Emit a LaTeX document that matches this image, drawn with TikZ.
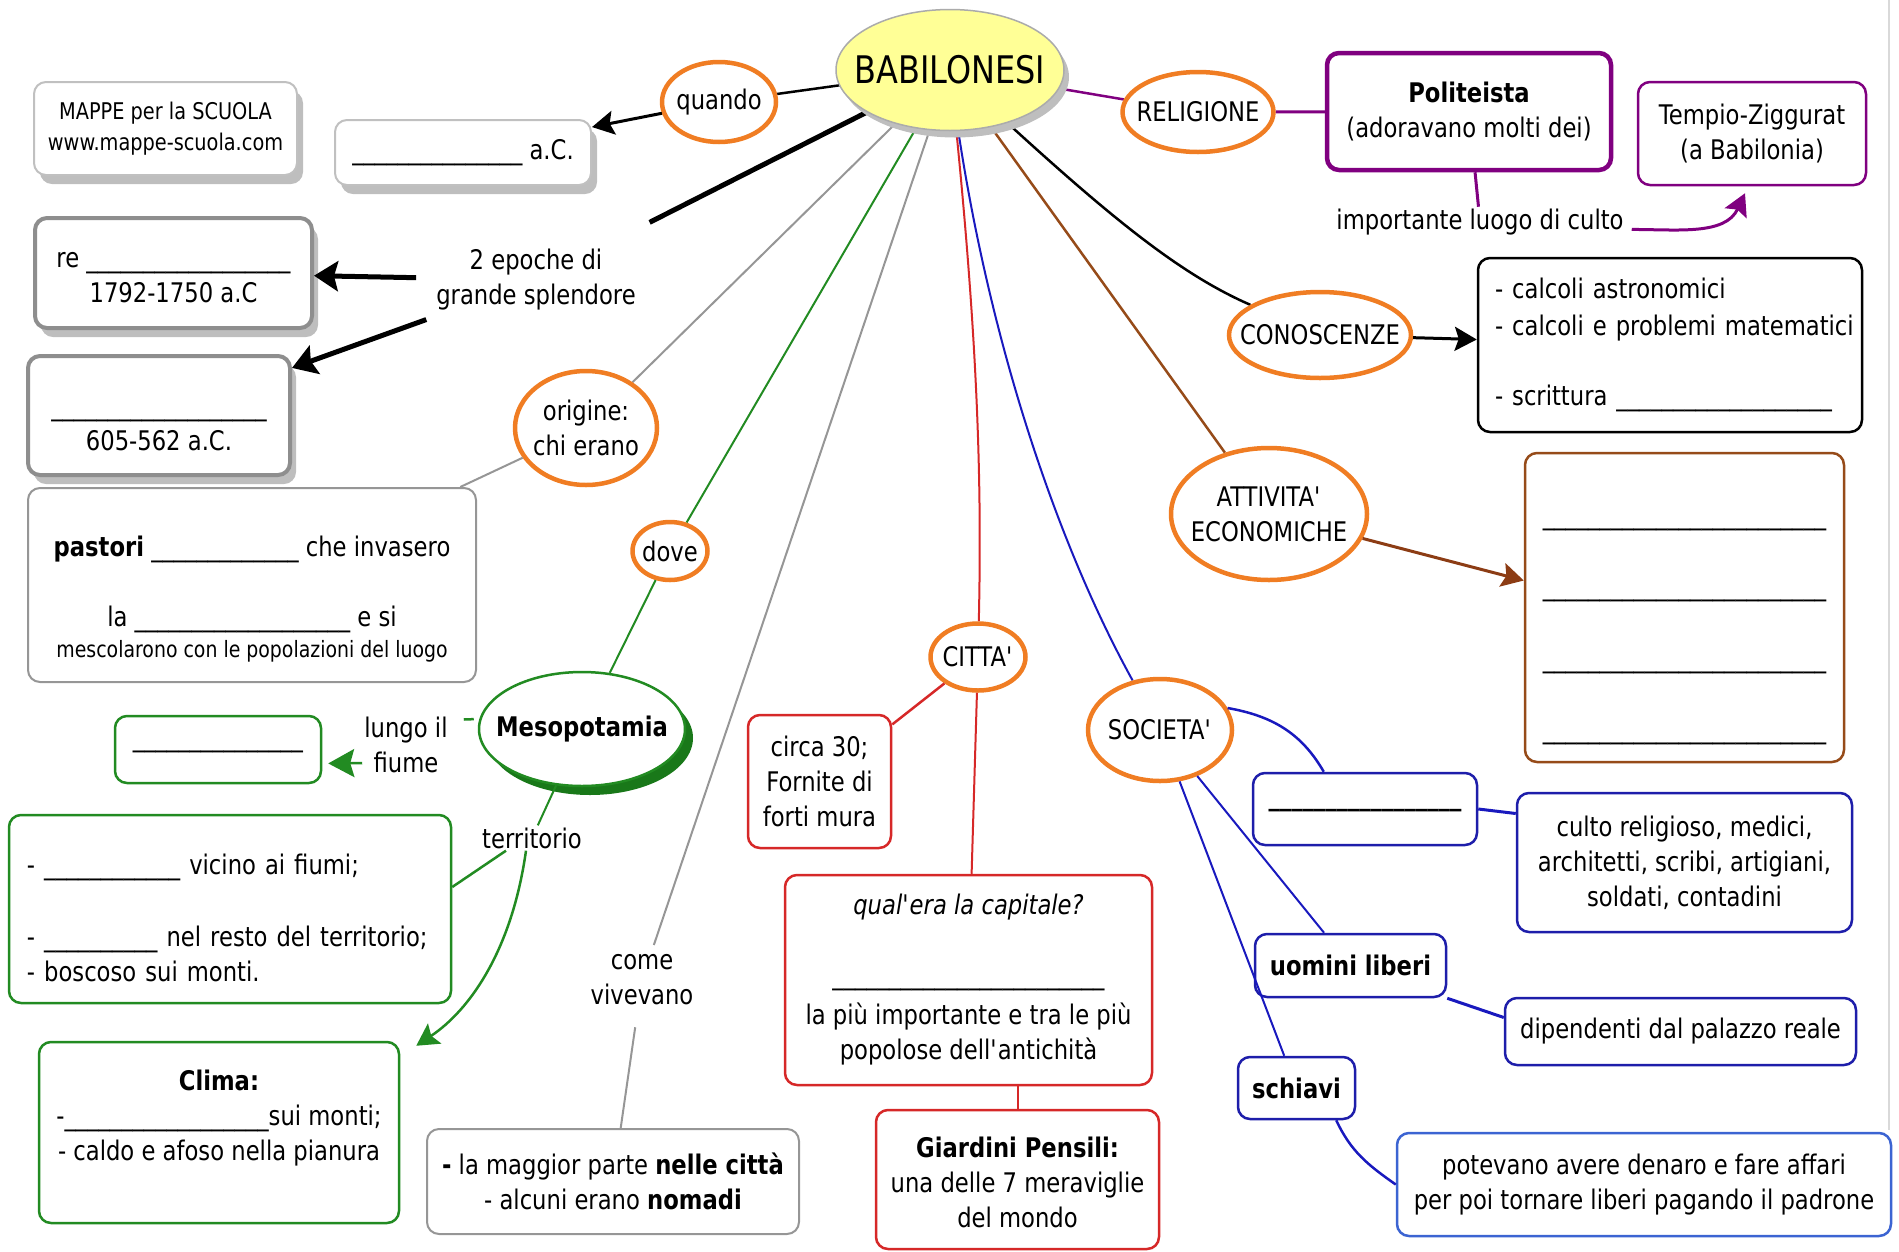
\documentclass[tikz,border=0pt]{standalone}
\usepackage{fontspec}
\setmainfont{DejaVu Sans}[FakeStretch=0.84]
\usetikzlibrary{shapes.geometric,arrows.meta,backgrounds,shadows}
\definecolor{cor}{RGB}{240,125,35}
\definecolor{cgr}{RGB}{34,139,34}
\definecolor{cdg}{RGB}{25,120,25}
\definecolor{cred}{RGB}{214,40,40}
\definecolor{cbr}{RGB}{150,75,25}
\definecolor{cbrd}{RGB}{140,60,20}
\definecolor{cpu}{RGB}{128,0,128}
\definecolor{cbl}{RGB}{25,25,190}
\definecolor{cbx}{RGB}{30,30,170}
\definecolor{clb}{RGB}{60,100,210}
\definecolor{cgy}{RGB}{150,150,150}
\definecolor{csh}{RGB}{190,190,190}
\definecolor{cye}{RGB}{255,255,150}
\newcount\blkc
\newcommand\blnk[1]{\blkc=#1\relax\loop\_\advance\blkc by -1\relax\ifnum\blkc>0 \repeat}
\newcommand\fsz[2]{\fontsize{#1}{#2}\selectfont}
\newcommand\ap{\textquotesingle}
% text block moved down by #1 without changing the size the node sees
\newcommand\dnc[2]{\raisebox{-#1}[\height][\depth]{\begin{tabular}{@{}c@{}}#2\end{tabular}}}
\newcommand\dnl[2]{\raisebox{-#1}[\height][\depth]{\begin{tabular}{@{}l@{}}#2\end{tabular}}}
\begin{document}
\begin{tikzpicture}[x=1pt,y=-1pt,
  every node/.style={font=\fsz{27}{35}, align=center, inner sep=2pt},
  ell/.style={ellipse, draw=cor, line width=4.5pt, fill=white, inner sep=-60pt},
  rbox/.style={rectangle, rounded corners=12pt, fill=white, inner sep=0pt},
  shd/.style={drop shadow={shadow xshift=6pt, shadow yshift=-9pt, fill=csh, opacity=1}},
  gbox/.style={rbox, draw=cgy, line width=2pt},
  lbox/.style={rbox, draw=cgy!60, line width=2pt},
  tbox/.style={rbox, draw=cgy!95!black, line width=4pt},
  grbox/.style={rbox, draw=cgr, line width=2.5pt},
  rdbox/.style={rbox, draw=cred, line width=2.5pt},
  blbox/.style={rbox, draw=cbx, line width=2.5pt},
  arr/.style={-{Stealth[length=22pt,width=24pt,inset=4pt]}},
  barr/.style={-{Stealth[length=24pt,width=30pt,inset=4pt]}}
]
\useasboundingbox (0,0) rectangle (1899,1251);
\draw[gray!30, line width=1.5pt] (1889,0) -- (1889,1130);

% central node
\node[ellipse, minimum width=228pt, minimum height=121pt, fill=cye, draw=cgy!80, line width=1.5pt, inner sep=-60pt, font=\fsz{38}{40},
  drop shadow={shadow xshift=5pt, shadow yshift=-7pt, fill=csh, opacity=1}] (bab) at (950,70) {BABILONESI};

% left top
\node[ell, minimum width=114pt, minimum height=80pt] (quando) at (719,102) {quando};
\node[lbox, shd, minimum width=263pt, minimum height=93pt, font=\fsz{23}{31}] (mappe) at (165.5,128.5) {MAPPE per la SCUOLA\\www.mappe-scuola.com};
\node[lbox, shd, minimum width=256pt, minimum height=65pt] (acbox) at (463,152.5) {\blnk{15} a.C.};
\node (epoche) at (536,280) {2 epoche di\\grande splendore};
\node[tbox, shd, minimum width=277pt, minimum height=110pt] (rebox) at (173.5,273) {\dnc{5pt}{re \blnk{18}\\1792-1750 a.C}};
\node[tbox, shd, minimum width=262pt, minimum height=119pt] (box605) at (159,415.5) {\mbox{}\\\blnk{19}\\605-562 a.C.};
\node[ell, minimum width=142pt, minimum height=114pt] (orig) at (586,428) {origine:\\chi erano};
\node[gbox, minimum width=448pt, minimum height=194pt] (pastori) at (252,585) {\dnc{15pt}{\textbf{pastori} \blnk{13} che invasero\\[35pt]la \blnk{19} e si\\[-4pt]{\fsz{22.5}{31}mescolarono con le popolazioni del luogo}}};

% green part
\node[ell, minimum width=75pt, minimum height=58pt] (dove) at (670,551) {dove};
\node[ellipse, minimum width=206pt, minimum height=114pt, draw=cgr, line width=2.5pt, fill=white, inner sep=-60pt,
  drop shadow={shadow xshift=8pt, shadow yshift=-9pt, fill=cdg, opacity=1}] (meso) at (582,729) {\textbf{Mesopotamia}};
\node (lungo) at (406,745) {lungo il\\fiume};
\node[grbox, minimum width=206pt, minimum height=67pt] (river) at (218,749.5) {\blnk{15}};
\node (terr) at (532,838) {territorio};
\node[grbox, minimum width=442pt, minimum height=188pt, align=left, text width=406pt, inner xsep=18pt] (terrbox) at (230,909) {\dnl{12pt}{- \blnk{12} vicino ai fiumi;\\[37pt]- \blnk{10} nel resto del territorio;\\- boscoso sui monti.}};
\node[grbox, minimum width=360pt, minimum height=181pt] (clima) at (219,1132.5) {\textbf{Clima:}\\-\blnk{18}sui monti;\\- caldo e afoso nella pianura\\ \mbox{}};

% come vivevano
\node (viv) at (642,980) {come\\vivevano};
\node[gbox, minimum width=372pt, minimum height=105pt] (vivbox) at (613,1181.5) {\textbf{-} la maggior parte \textbf{nelle città}\\- alcuni erano \textbf{nomadi}};

% citta
\node[ell, minimum width=95pt, minimum height=67pt] (citta) at (978,657) {CITTA\ap};
\node[rdbox, minimum width=143pt, minimum height=133pt] (circa) at (819.5,781.5) {circa 30;\\Fornite di\\forti mura};
\node[rdbox, minimum width=367pt, minimum height=210pt] (capbox) at (968.5,980) {\textit{qual\ap era la capitale?}\\[35pt]\blnk{24}\\[5pt]la più importante e tra le più\\popolose dell\ap antichità};
\node[rdbox, minimum width=283pt, minimum height=139pt] (giardini) at (1017.5,1179.5) {\dnc{6pt}{\textbf{Giardini Pensili:}\\una delle 7 meraviglie\\del mondo}};

% societa
\node[ell, minimum width=144pt, minimum height=102pt] (societa) at (1160,730) {SOCIETA\ap};
\node[blbox, minimum width=224pt, minimum height=72pt] (blank) at (1365,809) {\textbf{\blnk{17}}};
\node[blbox, minimum width=335pt, minimum height=139pt] (culto) at (1684.5,862.5) {culto religioso, medici,\\architetti, scribi, artigiani,\\soldati, contadini};
\node[blbox, minimum width=191pt, minimum height=63pt] (uomini) at (1350.5,965.5) {\textbf{uomini liberi}};
\node[blbox, minimum width=351pt, minimum height=67pt] (dip) at (1680.5,1031.5) {dipendenti dal palazzo reale};
\node[blbox, minimum width=117pt, minimum height=62pt] (schiavi) at (1296.5,1088) {\textbf{schiavi}};
\node[rbox, draw=clb, line width=2.5pt, minimum width=494pt, minimum height=103pt] (potevano) at (1644,1184.5) {potevano avere denaro e fare affari\\per poi tornare liberi pagando il padrone};

% attivita / conoscenze / religione
\node[ell, minimum width=196pt, minimum height=132pt] (attiv) at (1269,514) {ATTIVITA\ap\\ECONOMICHE};
\node[rbox, draw=cbr, line width=2.5pt, minimum width=319pt, minimum height=309pt] (brown) at (1684.5,607.5) {\dnc{17pt}{\blnk{25}\\[36.5pt]\blnk{25}\\[36.5pt]\blnk{25}\\[36.5pt]\blnk{25}}};
\node[ell, minimum width=182pt, minimum height=86pt] (conos) at (1320,335) {CONOSCENZE};
\node[rbox, draw=black, line width=2.5pt, minimum width=384pt, minimum height=174pt, align=left, text width=350pt, inner xsep=17pt] (conbox) at (1670,345) {\dnl{0pt}{- calcoli astronomici\\[2pt]- calcoli e problemi matematici\\[35pt]- scrittura \blnk{19}}};
\node[ell, minimum width=151pt, minimum height=80pt] (relig) at (1198,112) {RELIGIONE};
\node[rbox, draw=cpu, line width=4.5pt, minimum width=284pt, minimum height=117pt] (poli) at (1469,111.5) {\textbf{Politeista}\\(adoravano molti dei)};
\node (imp) at (1480,222) {importante luogo di culto};
\node[rbox, draw=cpu, line width=2.5pt, minimum width=228pt, minimum height=103pt] (tempio) at (1752,133.5) {Tempio-Ziggurat\\(a Babilonia)};

% connectors from the centre (under the central ellipse)
\begin{scope}[on background layer]
\draw[black, line width=2.5pt] (bab.center) -- (quando);
\draw[black, line width=5pt, shorten >=55pt] (bab.center) -- (epoche);
\draw[cgy, line width=2pt] (bab.center) -- (orig);
\draw[cgr, line width=2pt] (bab.center) -- (dove);
\draw[cgy, line width=2pt, shorten >=8pt] (bab.center) -- (viv);
\draw[cred, line width=2pt] (bab.center) .. controls (978,330) and (982,480) .. (citta);
\draw[cbl, line width=2pt] (bab.center) .. controls (980,320) and (1055,540) .. (societa);
\draw[cbr, line width=2.5pt] (bab.center) -- (attiv);
\draw[black, line width=2.5pt] (bab.center) .. controls (1090,200) and (1170,270) .. (conos);
\draw[cpu, line width=2.5pt] (bab.center) -- (relig);
\end{scope}

% other connectors
\draw[black, line width=3pt, arr] (quando) -- (acbox);
\draw[black, line width=5pt, barr, shorten <=18pt] (epoche) -- (rebox);
\draw[black, line width=5pt, barr, shorten <=20pt] (epoche) -- (box605);
\draw[cgy, line width=2pt] (orig) -- (pastori);
\draw[cgr, line width=2pt] (dove) -- (meso);
\draw[cgr, line width=2.5pt, shorten <=4pt, shorten >=14pt] ([yshift=10pt]meso.west) -- ([yshift=25pt]lungo.east);
\draw[cgr, line width=2.5pt, -{Stealth[length=26pt,width=28pt,inset=4pt]}, shorten >=6pt] ([yshift=-18pt]lungo.west) -- ([yshift=-14pt]river.east);
\draw[cgr, line width=2pt] (meso) -- (terr);
\draw[cgr, line width=2.5pt] ([xshift=-26pt]terr.south) -- ([yshift=22pt]terrbox.east);
\draw[cgr, line width=2.5pt, arr] ([xshift=-6pt]terr.south) .. controls (512,950) and (470,1010) .. ([xshift=16pt,yshift=-5pt]clima.north east);
\draw[cgy, line width=2pt, shorten <=20pt] (viv) -- (vivbox);
\draw[cred, line width=2.5pt] (citta) -- (circa);
\draw[cred, line width=2pt] (citta) -- (capbox);
\draw[cred, line width=2pt] (capbox.south -| giardini.north) -- (giardini.north);
\draw[cbl, line width=2.5pt] (societa.18) to[out=-10, in=120] ([xshift=72pt]blank.north west);
\draw[cbl, line width=3pt] (blank.east) -- ([yshift=49pt]culto.west);
\draw[cbl, line width=2pt] (societa) -- (uomini);
\draw[cbl, line width=3pt] (uomini.south east) -- ([yshift=14pt]dip.west);
\draw[cbl, line width=2pt] (societa) -- (schiavi);
\draw[cbl, line width=2.5pt] ([xshift=-20pt]schiavi.south east) to[out=-65, in=145] (potevano.west);
\draw[cbrd, line width=3pt, arr] (attiv) -- ([yshift=27pt]brown.west);
\draw[black, line width=3pt, arr] (conos) -- (conbox);
\draw[cpu, line width=3pt] (relig) -- (poli);
\draw[cpu, line width=3pt] (poli) -- (imp);
\draw[cpu, line width=3pt, arr] ([xshift=6pt]imp.base east) to[out=0, in=-115] ([xshift=-7pt,yshift=-7pt]tempio.south);
\end{tikzpicture}
\end{document}
